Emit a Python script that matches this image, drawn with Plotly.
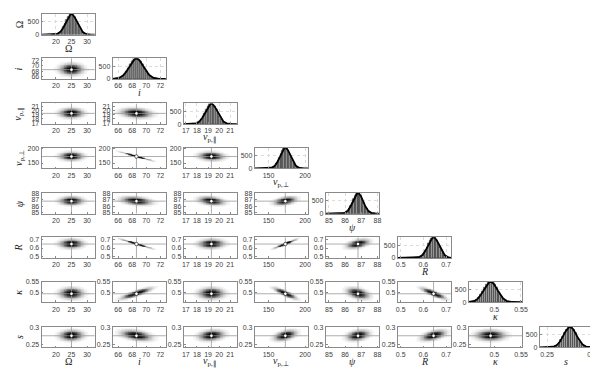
import numpy as np
import plotly.graph_objects as go

# parameter labels (LaTeX-like)
names = ["Ω", "<i>i</i>", "<i>v</i><sub>p,∥</sub>", "<i>v</i><sub>p,⊥</sub>",
         "<i>ψ</i>", "<i>R</i>", "<i>κ</i>", "<i>s</i>"]

ax_ranges = [[15.4, 32.5], [65.2, 72.8], [16.8, 21.6], [131, 204],
             [84.8, 88.1], [0.487, 0.722], [0.452, 0.552], [0.242, 0.301]]
tick_vals = [[20, 25, 30], [66, 68, 70, 72], [17, 18, 19, 20, 21], [150, 200],
             [85, 86, 87, 88], [0.5, 0.6, 0.7], [0.5, 0.55], [0.25, 0.3]]
tick_text = [["20", "25", "30"], ["66", "68", "70", "72"], ["17", "18", "19", "20", "21"],
             ["150", "200"], ["85", "86", "87", "88"], ["0.5", "0.6", "0.7"],
             ["0.5", "0.55"], ["0.25", "0.3"]]

# histogram bins
bin_start = [18.75, 65.1, 17.425, 148.0, 85.675, 0.5575, 0.448, 0.2505]
bin_width = [0.5, 0.28, 0.15, 2.0, 0.09, 0.007, 0.0036, 0.002]
hist_omega = [3, 8, 15, 36, 62, 120, 192, 305, 420, 566, 690, 768, 805, 772, 680, 558, 430, 296, 198, 113, 68, 31, 17, 6, 2]
hist_i = [4, 6, 17, 33, 67, 114, 198, 298, 431, 558, 688, 775, 798, 766, 679, 567, 422, 303, 191, 120, 63, 36, 15, 8, 3]
hist_vpar = [2, 7, 16, 35, 66, 119, 190, 302, 428, 560, 681, 773, 802, 769, 688, 560, 425, 298, 196, 116, 66, 33, 17, 7, 3]
hist_vperp = [3, 7, 15, 34, 64, 118, 196, 300, 425, 565, 684, 772, 800, 815, 690, 555, 428, 300, 193, 118, 64, 35, 16, 7, 3]
hist_psi = [3, 6, 16, 33, 66, 116, 197, 299, 430, 563, 686, 770, 798, 771, 683, 561, 427, 301, 194, 118, 65, 34, 15, 7, 2]
hist_R = [2, 7, 17, 34, 65, 115, 194, 302, 426, 561, 683, 770, 812, 800, 683, 564, 424, 298, 196, 117, 66, 33, 16, 6, 3]
hist_kappa = [3, 7, 16, 35, 64, 119, 195, 297, 429, 562, 688, 769, 801, 774, 681, 559, 428, 303, 192, 115, 67, 32, 17, 6, 2]
hist_s = [2, 8, 15, 34, 66, 117, 193, 301, 427, 559, 685, 774, 799, 770, 687, 563, 426, 297, 197, 119, 63, 35, 15, 7, 3]
hists = [hist_omega, hist_i, hist_vpar, hist_vperp, hist_psi, hist_R, hist_kappa, hist_s]

# pairwise correlations (lower triangle, row vs earlier columns)
corr_i = [0.0]
corr_vpar = [0.0, -0.2]
corr_vperp = [0.0, -0.97, -0.1]
corr_psi = [0.0, -0.3, -0.3, 0.4]
corr_R = [0.0, -0.97, 0.05, 0.95, 0.45]
corr_kappa = [0.0, 0.85, 0.0, -0.85, -0.4, -0.85]
corr_s = [0.05, -0.4, 0.2, 0.45, 0.3, 0.5, 0.0]
corrs = [[], corr_i, corr_vpar, corr_vperp, corr_psi, corr_R, corr_kappa, corr_s]

W, H = 598, 372
col_left = [32, 104, 176, 248, 320, 393, 465, 537]
row_top = [3, 48, 94, 139, 185, 230, 275, 321]
pw, ph = 54, 21

tick_font = dict(family="Liberation Sans", size=7, color="#404040")
lab_font = dict(family="Liberation Serif", size=10, color="#222")

# stats of each marginal from the histogram counts
means, sds = [], []
for k in range(8):
    c = np.array(hists[k], float)
    x = bin_start[k] + bin_width[k] * (np.arange(len(c)) + 0.5)
    m = (c * x).sum() / c.sum()
    means.append(m)
    sds.append(np.sqrt((c * (x - m) ** 2).sum() / c.sum()))

fig = go.Figure()
layout = dict(width=W, height=H, margin=dict(l=0, r=0, t=0, b=0),
              paper_bgcolor="white", plot_bgcolor="white", showlegend=False)


def axis_style(dom, anchor, rng, tv, tt):
    return dict(domain=dom, anchor=anchor, range=rng, tickvals=tv, ticktext=tt,
                showline=True, mirror=True, linecolor="#8a8a8a", linewidth=0.8,
                ticks="inside", ticklen=2, tickcolor="#8a8a8a", tickfont=tick_font,
                showgrid=True, gridcolor="#dcdcdc", griddash="dot", gridwidth=0.6,
                zeroline=False, fixedrange=True)


gray_scale = [[0, "white"], [0.15, "#f0f0f0"], [0.4, "#b4b4b4"], [0.7, "#4a4a4a"],
              [0.85, "#141414"], [1, "black"]]

n = 0
for r in range(8):
    for c in range(r + 1):
        n += 1
        xa, ya = f"x{n}", f"y{n}"
        xd = [col_left[c] / W, (col_left[c] + pw) / W]
        yd = [1 - (row_top[r] + ph) / H, 1 - row_top[r] / H]
        xk = "xaxis" if n == 1 else f"xaxis{n}"
        yk = "yaxis" if n == 1 else f"yaxis{n}"
        layout[xk] = axis_style(xd, ya, ax_ranges[c], tick_vals[c], tick_text[c])
        if r == c:
            layout[yk] = axis_style(yd, xa, [0, 810], [0, 500], ["0", "500"])
            cnt = np.array(hists[c], float)
            xc = bin_start[c] + bin_width[c] * (np.arange(len(cnt)) + 0.5)
            fig.add_trace(go.Bar(x=xc, y=cnt, width=bin_width[c], xaxis=xa, yaxis=ya,
                                 marker=dict(color="#a0a0a0", line=dict(color="#303030", width=0.6))))
            xs = np.linspace(ax_ranges[c][0], ax_ranges[c][1], 200)
            fit = cnt.sum() * bin_width[c] / (sds[c] * np.sqrt(2 * np.pi)) * \
                np.exp(-0.5 * ((xs - means[c]) / sds[c]) ** 2)
            fig.add_trace(go.Scatter(x=xs, y=fit, mode="lines", xaxis=xa, yaxis=ya,
                                     line=dict(color="black", width=1.8)))
        else:
            layout[yk] = axis_style(yd, xa, ax_ranges[r], tick_vals[r], tick_text[r])
            rho = corrs[r][c]
            gx = np.linspace(ax_ranges[c][0], ax_ranges[c][1], 70)
            gy = np.linspace(ax_ranges[r][0], ax_ranges[r][1], 28)
            X, Y = np.meshgrid(gx, gy)
            u = (X - means[c]) / sds[c]
            v = (Y - means[r]) / sds[r]
            q = (u ** 2 - 2 * rho * u * v + v ** 2) / (1 - rho ** 2)
            z = np.exp(-0.5 * q) ** 0.5
            z[q > 10] = 0
            fig.add_trace(go.Heatmap(x=gx, y=gy, z=z, xaxis=xa, yaxis=ya, zmin=0, zmax=1,
                                     colorscale=gray_scale, showscale=False))
            fig.add_trace(go.Scatter(x=ax_ranges[c], y=[means[r], means[r]], mode="lines",
                                     xaxis=xa, yaxis=ya, line=dict(color="#999", width=0.8)))
            fig.add_trace(go.Scatter(x=[means[c], means[c]], y=ax_ranges[r], mode="lines",
                                     xaxis=xa, yaxis=ya, line=dict(color="#999", width=0.8)))
            fig.add_trace(go.Scatter(x=[means[c]], y=[means[r]], mode="markers",
                                     xaxis=xa, yaxis=ya,
                                     marker=dict(color="white", size=3.5, line=dict(color="black", width=0.6))))

annotations = []
for k in range(8):
    # x labels under diagonal panels and bottom row
    annotations.append(dict(text=names[k], x=(col_left[k] + pw / 2) / W,
                            y=1 - (row_top[k] + ph + 14) / H, xref="paper", yref="paper",
                            showarrow=False, font=lab_font, xanchor="center", yanchor="middle"))
    if k < 7:
        annotations.append(dict(text=names[k], x=(col_left[k] + pw / 2) / W,
                                y=1 - (row_top[7] + ph + 14) / H, xref="paper", yref="paper",
                                showarrow=False, font=lab_font, xanchor="center", yanchor="middle"))
    # y labels on the left column
    annotations.append(dict(text=names[k], x=9 / W, y=1 - (row_top[k] + ph / 2) / H,
                            xref="paper", yref="paper", showarrow=False, font=lab_font,
                            textangle=-90, xanchor="center", yanchor="middle"))
layout["annotations"] = annotations
layout["bargap"] = 0

fig.update_layout(**layout)
fig.write_html("out.html")
